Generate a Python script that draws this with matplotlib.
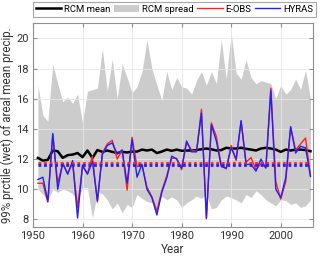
import matplotlib.pyplot as plt
import numpy as np

plt.rcParams['font.family'] = ['Roboto', 'DejaVu Sans']

years = np.arange(1951, 2007)

spread_hi = [16.9, 14.9, 14.5, 18.3, 17.0, 15.8, 16.1, 15.7, 16.3, 14.4,
             16.5, 16.6, 16.7, 19.3, 16.5, 18.6, 16.0, 18.3, 17.4, 16.4,
             16.8, 17.8, 19.9, 18.0, 16.9, 15.9, 17.8, 16.6, 17.4, 16.8,
             16.7, 16.3, 17.2, 17.8, 16.9, 17.8, 17.0, 19.9, 17.3, 20.3,
             17.7, 17.3, 18.6, 17.4, 17.0, 17.2, 17.1, 17.0, 16.0, 16.9,
             16.3, 16.6, 17.3, 16.6, 17.9, 16.0]
spread_lo = [10.0, 9.66, 9.3, 10.0, 9.8, 10.0, 9.9, 9.7, 9.3, 10.1,
             10.1, 8.1, 9.8, 9.7, 9.3, 8.7, 9.1, 8.45, 9.0, 8.8,
             9.66, 9.4, 9.2, 9.1, 8.7, 9.55, 9.3, 9.5, 9.3, 8.8,
             9.1, 9.3, 9.55, 9.4, 9.65, 8.7, 8.8, 9.3, 9.55, 9.45,
             9.3, 9.1, 9.65, 9.45, 9.9, 9.65, 9.3, 9.1, 8.9, 9.3,
             9.25, 9.0, 9.1, 8.8, 8.9, 9.3]
rcm_mean = [12.08, 11.9, 11.95, 12.57, 12.52, 12.08, 12.26, 12.3, 12.4, 12.13,
            12.57, 12.08, 12.6, 12.48, 12.57, 12.48, 12.4, 12.48, 12.44, 12.5,
            12.5, 12.63, 12.57, 12.63, 12.4, 12.5, 12.63, 12.55, 12.63, 12.55,
            12.57, 12.57, 12.6, 12.65, 12.7, 12.65, 12.57, 12.6, 12.75, 12.7,
            12.7, 12.75, 12.68, 12.63, 12.57, 12.7, 12.75, 12.7, 12.63, 12.48,
            12.63, 12.57, 12.63, 12.63, 12.6, 12.52]
eobs = [10.4, 10.4, 9.15, 13.6, 10.4, 11.7, 11.05, 11.7, 8.8, 11.5,
        11.05, 12.2, 9.15, 12.4, 13.0, 13.25, 12.0, 12.6, 9.95, 13.45,
        11.5, 11.6, 10.15, 9.5, 8.55, 9.9, 10.9, 12.05, 12.05, 11.3,
        13.1, 12.6, 12.5, 15.3, 8.05, 14.4, 13.5, 11.6, 11.35, 12.9,
        11.9, 14.5, 11.8, 12.1, 11.3, 11.7, 11.45, 16.7, 10.5, 9.35,
        10.5, 14.1, 12.6, 13.0, 13.4, 10.9]
hyras = [10.65, 10.8, 9.2, 13.7, 10.0, 11.75, 11.0, 11.9, 8.1, 11.6,
         11.0, 11.85, 9.25, 12.3, 12.9, 13.07, 12.35, 12.6, 10.4, 13.3,
         10.8, 11.65, 10.0, 9.45, 8.3, 9.8, 10.75, 12.2, 12.0, 11.4,
         13.2, 12.48, 12.48, 15.04, 8.1, 14.27, 13.2, 11.5, 11.4, 12.75,
         12.0, 14.55, 11.65, 11.65, 11.2, 12.0, 11.4, 16.55, 10.0, 9.45,
         10.75, 14.15, 12.4, 12.85, 12.75, 10.85]
eobs_avg = 11.75
hyras_avg = 11.62

fig = plt.figure(figsize=(3.2, 2.58), dpi=100)
ax = fig.add_axes([0.103, 0.12, 0.875, 0.79])

ax.fill_between(years, spread_lo, spread_hi, color='#cccccc', lw=0, label='RCM spread')
ax.plot(years, rcm_mean, color='k', lw=1.8, label='RCM mean')
ax.plot(years, eobs, color='#ff2020', lw=1.0, label='E-OBS')
ax.plot(years, hyras, color='#2020ff', lw=1.0, label='HYRAS')
ax.plot([years[0], years[-1]], [eobs_avg, eobs_avg], color='#ff2020', lw=2, ls=(0, (1, 1)))
ax.plot([years[0], years[-1]], [hyras_avg, hyras_avg], color='#2020ff', lw=2, ls=(0, (1, 1)))

ax.set_xlim(1950, 2006.5)
ax.set_ylim(7.5, 21)
ax.set_xticks(np.arange(1950, 2001, 10))
ax.set_yticks(np.arange(8, 21, 2))
ax.grid(color='#e6e6e6', lw=0.6)
for s in ax.spines.values():
    s.set_color('#909090')
    s.set_linewidth(0.8)
ax.tick_params(direction='in', top=True, right=True, length=3, color='#909090',
               labelsize=8, labelcolor='#333333', pad=3)
ax.set_xlabel('Year', fontsize=8.5, color='#333333', labelpad=1)
ax.set_ylabel('99% prctile (wet) of areal mean precip.', fontsize=8.3, color='#333333', labelpad=2)

h, l = ax.get_legend_handles_labels()
order = [1, 0, 2, 3]
leg = fig.legend([h[i] for i in order], [l[i] for i in order], loc='upper center',
                 bbox_to_anchor=(0.545, 1.0), ncol=4, fontsize=6.8, frameon=True,
                 fancybox=False, edgecolor='#909090', handlelength=2.7,
                 columnspacing=0.35, handletextpad=0.3, borderpad=0.3,
                 borderaxespad=0.2)
leg.get_frame().set_linewidth(0.8)
for gl in ax.get_xgridlines() + ax.get_ygridlines():
    gl.set_zorder(0.5)

fig.savefig('out.png', dpi=100)
